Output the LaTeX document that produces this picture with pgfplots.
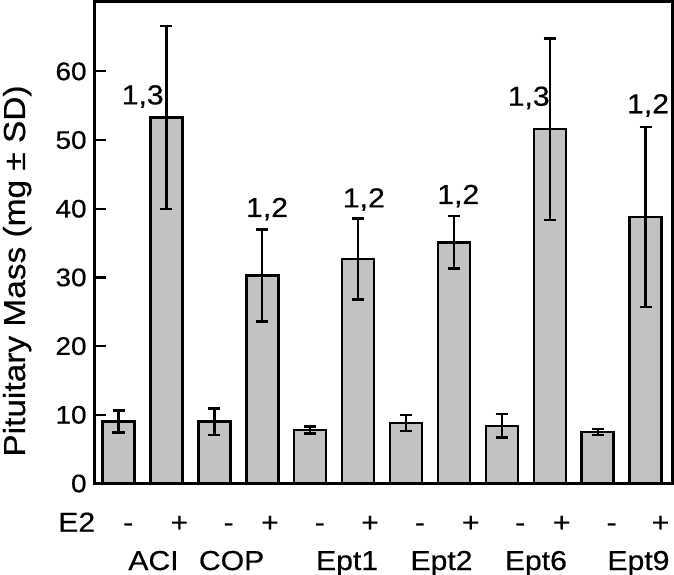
\documentclass[border=0pt]{standalone}
\usepackage{pgfplots}
\pgfplotsset{compat=1.18}
\usepackage{pgfplotstable}
\usepackage{fontspec}
\setmainfont[FakeStretch=1.1, FakeBold=0.5]{Liberation Sans}
\definecolor{bargray}{RGB}{194,194,194}

\pgfplotstableread{
x y e
0 9.0 1.6
1 53.3 13.3
2 9.0 1.9
3 30.3 6.7
4 7.8 0.5
5 32.7 5.9
6 8.8 1.2
7 35.1 3.8
8 8.4 1.7
9 51.6 13.2
10 7.5 0.4
11 38.8 13.1
}\datatable

\begin{document}
\begin{tikzpicture}
\begin{axis}[
  scale only axis,
  width=577.7bp, height=482.2bp,
  xmin=-0.505, xmax=11.55,
  ymin=0, ymax=70.2,
  ytick={0,10,...,60},
  xtick=\empty,
  ytick pos=left,
  tick align=inside,
  major tick length=12bp,
  every tick/.style={line width=2.2bp, black},
  axis line style={line width=3bp},
  /pgf/number format/assume math mode=true,
  yticklabel style={font=\fontsize{25.5}{30}\selectfont, inner sep=3bp, xshift=-4.5bp},
  clip=false,
]
\addplot[ybar, bar width=32bp, fill=bargray, draw=black, line width=2.6bp,
  error bars/.cd, y dir=both, y explicit,
  error bar style={line width=2.4bp, black},
  error mark options={rotate=90, mark size=6bp, line width=2.4bp, black}]
  table[x=x, y=y, y error=e]{\datatable};

\tikzset{lab/.style={anchor=base, inner sep=0pt, font=\fontsize{27.5}{32}\selectfont}}
% significance labels
\node[lab] at (axis cs:0.505,55.2) {1,3};
\node[lab] at (axis cs:3.10,38.8) {1,2};
\node[lab] at (axis cs:5.12,40.2) {1,2};
\node[lab] at (axis cs:7.09,40.7) {1,2};
\node[lab] at (axis cs:8.56,55.0) {1,3};
\node[lab] at (axis cs:11.05,53.9) {1,2};
% E2 row
\node[lab] at ([yshift=-48.2bp]axis cs:-0.872,0) {E2};
\node[lab] at ([yshift=-48.2bp]axis cs:0.20,0) {-};
\node[lab] at ([yshift=-48.2bp]axis cs:1.27,0) {+};
\node[lab] at ([yshift=-48.2bp]axis cs:2.30,0) {-};
\node[lab] at ([yshift=-48.2bp]axis cs:3.16,0) {+};
\node[lab] at ([yshift=-48.2bp]axis cs:4.20,0) {-};
\node[lab] at ([yshift=-48.2bp]axis cs:5.25,0) {+};
\node[lab] at ([yshift=-48.2bp]axis cs:6.29,0) {-};
\node[lab] at ([yshift=-48.2bp]axis cs:7.35,0) {+};
\node[lab] at ([yshift=-48.2bp]axis cs:8.38,0) {-};
\node[lab] at ([yshift=-48.2bp]axis cs:9.25,0) {+};
\node[lab] at ([yshift=-48.2bp]axis cs:10.29,0) {-};
\node[lab] at ([yshift=-48.2bp]axis cs:11.31,0) {+};
% strain row
\node[lab] at ([yshift=-86.5bp]axis cs:0.73,0) {ACI};
\node[lab] at ([yshift=-86.5bp]axis cs:2.36,0) {COP};
\node[lab] at ([yshift=-86.5bp]axis cs:4.77,0) {Ept1};
\node[lab] at ([yshift=-86.5bp]axis cs:6.74,0) {Ept2};
\node[lab] at ([yshift=-86.5bp]axis cs:8.71,0) {Ept6};
\node[lab] at ([yshift=-86.5bp]axis cs:10.85,0) {Ept9};
\end{axis}
\node[rotate=90, anchor=base, inner sep=0pt, font=\fontsize{30.5}{35}\selectfont] at (-69.3bp,212.5bp) {Pituitary Mass (mg ± SD)};
\pgfresetboundingbox
\path (-94.3bp,-91.5bp) rectangle (579.7bp,483.5bp);
\end{tikzpicture}
\end{document}
